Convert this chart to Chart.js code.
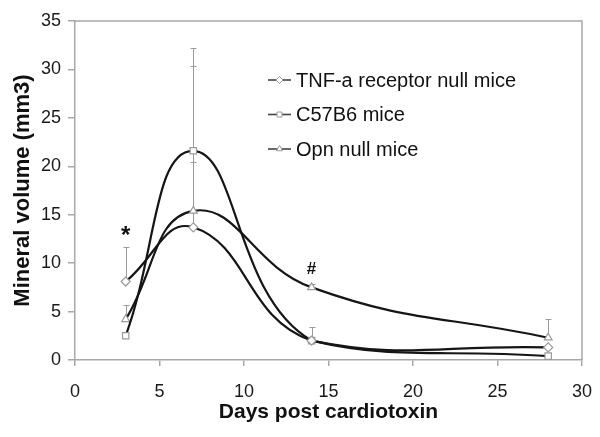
<!DOCTYPE html>
<html>
<head>
<meta charset="utf-8">
<script src="https://cdn.jsdelivr.net/npm/chart.js@4/dist/chart.umd.min.js"></script>
<style>
  html, body { margin: 0; padding: 0; background: #fff; }
  #wrap { width: 600px; height: 437px; }
</style>
</head>
<body>
<div id="wrap"><canvas id="chart" width="600" height="437"></canvas></div>
<script>
// days after injury
const days = [3, 7, 14, 28];

// mean mineral volume (mm3)
const tnfVals = [8.1, 13.7, 2.0, 1.3];
const c57Vals = [2.5, 21.6, 2.0, 0.4];
const opnVals = [4.2, 15.4, 7.5, 2.3];

// upper error bars
const tnfErr = [3.6, 6.7, 1.4, 0];
const c57Err = [0, 10.6, 0, 0];
const opnErr = [1.5, 15.0, 0.3, 1.9];

const seriesNames = ['TNF-a receptor null mice', 'C57B6 mice', 'Opn null mice'];
const markerStyles = ['rectRot', 'rect', 'triangle'];

// significance marks: [day, value, symbol]
const marks = [[3, 13.2, '*'], [14, 9.4, '#']];

const xTicks = [0, 5, 10, 15, 20, 25, 30];
const yTicks = [0, 5, 10, 15, 20, 25, 30, 35];

const toPoints = vals => days.map((d, i) => ({ x: d, y: vals[i] }));

const allVals = [tnfVals, c57Vals, opnVals];
const allErr = [tnfErr, c57Err, opnErr];

const lineColor = '#151515';
const markerColor = '#9a9a9a';
const axisColor = '#a8a8a8';

const datasets = allVals.map((vals, i) => ({
  label: seriesNames[i],
  data: toPoints(vals),
  showLine: true,
  tension: 0.45,
  borderColor: lineColor,
  borderWidth: 2.2,
  pointStyle: markerStyles[i],
  pointRadius: 4.5,
  pointBorderColor: markerColor,
  pointBackgroundColor: '#fff',
  pointBorderWidth: 1.2,
  errUp: allErr[i]
}));

const extras = {
  id: 'extras',
  beforeDatasetsDraw(chart) {
    const { ctx, scales: { x, y } } = chart;
    ctx.save();
    ctx.strokeStyle = markerColor;
    ctx.lineWidth = 1;
    chart.data.datasets.forEach(ds => {
      ds.data.forEach((p, i) => {
        const e = ds.errUp[i];
        if (!e) return;
        const px = Math.round(x.getPixelForValue(p.x)) + 0.5;
        const y0 = y.getPixelForValue(p.y);
        const y1 = Math.round(y.getPixelForValue(p.y + e)) + 0.5;
        ctx.beginPath();
        ctx.moveTo(px, y0);
        ctx.lineTo(px, y1);
        ctx.moveTo(px - 3, y1);
        ctx.lineTo(px + 3, y1);
        ctx.stroke();
      });
    });
    ctx.restore();
  },
  afterDraw(chart) {
    const { ctx, chartArea: a, scales: { x, y } } = chart;
    ctx.save();
    // frame top and right
    ctx.strokeStyle = axisColor;
    ctx.lineWidth = 1.5;
    ctx.beginPath();
    ctx.moveTo(a.left, a.top);
    ctx.lineTo(a.right, a.top);
    ctx.lineTo(a.right, a.bottom);
    ctx.stroke();

    // * and #
    ctx.fillStyle = '#111';
    ctx.textAlign = 'center';
    ctx.textBaseline = 'middle';
    marks.forEach(([d, v, s]) => {
      ctx.font = s === '*' ? 'bold 24px "Liberation Sans", Arial, sans-serif' : 'bold 17px "Liberation Sans", Arial, sans-serif';
      ctx.fillText(s, x.getPixelForValue(d), y.getPixelForValue(v) + (s === '*' ? 4 : 0));
    });

    // legend
    const lx = 268, ly = 80, step = 34.5;
    ctx.font = '20px "Liberation Sans", Arial, sans-serif';
    ctx.textAlign = 'left';
    seriesNames.forEach((name, i) => {
      const yy = ly + i * step;
      ctx.strokeStyle = '#444';
      ctx.lineWidth = 1.6;
      ctx.beginPath();
      ctx.moveTo(lx, yy);
      ctx.lineTo(lx + 23, yy);
      ctx.stroke();
      ctx.fillStyle = '#fff';
      ctx.strokeStyle = markerColor;
      ctx.lineWidth = 1;
      Chart.helpers.drawPoint(ctx, { pointStyle: markerStyles[i], radius: 3.5, rotation: 0, borderWidth: 1 }, lx + 11.5, yy);
      ctx.fillStyle = '#111';
      ctx.fillText(name, lx + 28, yy + 1);
    });
    ctx.restore();
  }
};

new Chart(document.getElementById('chart'), {
  type: 'scatter',
  data: { datasets },
  plugins: [extras],
  options: {
    responsive: false,
    animation: false,
    layout: { padding: { top: 21, right: 18, left: 0, bottom: 0 } },
    plugins: { legend: { display: false }, tooltip: { enabled: false } },
    scales: {
      x: {
        type: 'linear',
        min: 0,
        max: 30,
        afterBuildTicks: s => { s.ticks = xTicks.map(v => ({ value: v })); },
        afterFit: s => { s.height = 77; s.paddingRight = 0; s.paddingLeft = 0; },
        grid: { drawOnChartArea: false, tickLength: 6, color: axisColor, lineWidth: 1.5 },
        border: { color: axisColor, width: 1.5 },
        ticks: { color: '#1a1a1a', font: { family: '"Liberation Sans", Arial, sans-serif', size: 18 }, padding: 15, maxRotation: 0 },
        title: {
          display: true,
          text: 'Days post cardiotoxin',
          color: '#111',
          font: { family: '"Liberation Sans", Arial, sans-serif', size: 21, weight: 'bold' },
          padding: { top: 0, bottom: 12 }
        }
      },
      y: {
        min: 0,
        max: 35,
        afterBuildTicks: s => { s.ticks = yTicks.map(v => ({ value: v })); },
        afterFit: s => { s.width = 75; },
        grid: { drawOnChartArea: false, tickLength: 7, color: axisColor, lineWidth: 1.5 },
        border: { color: axisColor, width: 1.5 },
        ticks: { color: '#1a1a1a', font: { family: '"Liberation Sans", Arial, sans-serif', size: 18 }, padding: 7 },
        title: {
          display: true,
          text: 'Mineral volume (mm3)',
          color: '#111',
          font: { family: '"Liberation Sans", Arial, sans-serif', size: 22, weight: 'bold' },
          padding: { top: 10, bottom: 0 }
        }
      }
    }
  }
});
</script>
</body>
</html>
